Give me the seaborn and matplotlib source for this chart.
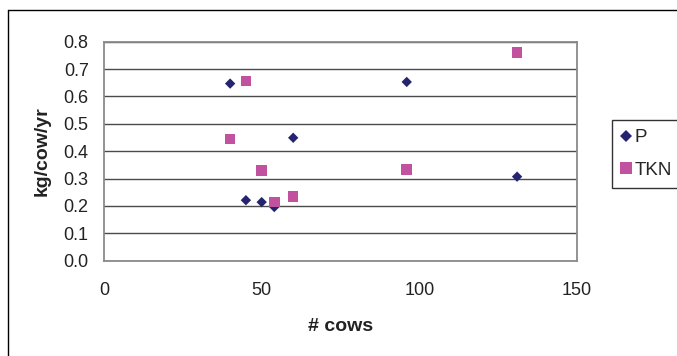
import matplotlib
matplotlib.use("Agg")
import matplotlib.pyplot as plt
from matplotlib.lines import Line2D
import seaborn as sns
import pandas as pd

# Herd size and annual loss per cow
cows = [40, 45, 50, 54, 60, 96, 131]
p_vals = [0.647, 0.221, 0.214, 0.196, 0.449, 0.653, 0.307]
tkn_vals = [0.445, 0.656, 0.329, 0.214, 0.235, 0.334, 0.761]
series_names = ["P", "TKN"]
x_ticks = [0, 50, 100, 150]
y_ticks = [0.0, 0.1, 0.2, 0.3, 0.4, 0.5, 0.6, 0.7, 0.8]

df = pd.concat([
    pd.DataFrame({"cows": cows, "value": p_vals, "series": series_names[0]}),
    pd.DataFrame({"cows": cows, "value": tkn_vals, "series": series_names[1]}),
], ignore_index=True)

sns.set_theme(style="white")
plt.rcParams["font.family"] = ["Liberation Sans", "DejaVu Sans"]

W, H = 677, 356
fig = plt.figure(figsize=(W / 100, H / 100), dpi=100)
ax = fig.add_axes([104 / W, 1 - 260.7 / H, (577 - 104) / W, (260.7 - 41.7) / H])

colors = {"P": "#25256f", "TKN": "#c0529f"}
markers = {"P": "D", "TKN": "s"}
for name in series_names:
    sub = df[df["series"] == name]
    sns.scatterplot(data=sub, x="cows", y="value", ax=ax, color=colors[name],
                    marker=markers[name], s=28 if name == "P" else 58,
                    edgecolor="none", linewidth=0, zorder=3, legend=False)

ax.set_xlim(0, 150)
ax.set_ylim(0, 0.8)
ax.set_xticks(x_ticks)
ax.set_xticklabels([str(v) for v in x_ticks])
ax.set_yticks(y_ticks)
ax.set_yticklabels([f"{v:.1f}" for v in y_ticks])
ax.yaxis.grid(True, color="#4a4a4a", linewidth=1.0)
ax.xaxis.grid(False)
ax.set_axisbelow(True)
for side in ["left", "right", "top", "bottom"]:
    ax.spines[side].set_visible(True)
    ax.spines[side].set_color("#8a8a8a")
    ax.spines[side].set_linewidth(1.3)
ax.tick_params(axis="both", which="major", direction="out", length=4.5, width=1,
               color="#8a8a8a", labelsize=13, labelcolor="#222222")
ax.tick_params(axis="y", pad=6.5)
ax.tick_params(axis="x", pad=10.5)
ax.set_xlabel("# cows", fontsize=14, fontweight="bold", labelpad=14, color="#222222")
ax.set_ylabel("kg/cow/yr", fontsize=14, fontweight="bold", labelpad=9.5, color="#222222")

handles = [Line2D([], [], linestyle="none", marker=markers[n], color=colors[n],
                  markersize=6.2 if n == "P" else 8, markeredgewidth=0)
           for n in series_names]
leg = fig.legend(handles, series_names, loc="upper left",
                 bbox_to_anchor=(612 / W, 1 - 120 / H), frameon=True, fancybox=False,
                 fontsize=13.5, handlelength=0.5, handletextpad=0.2,
                 borderpad=0.5, labelspacing=0.8, borderaxespad=0)
leg.get_frame().set_edgecolor("#000000")
leg.get_frame().set_linewidth(1.0)

# outer chart frame (top and left edges)
fig.add_artist(Line2D([8 / W, 1], [1 - 10 / H, 1 - 10 / H], transform=fig.transFigure,
                      color="#000000", linewidth=1.0))
fig.add_artist(Line2D([8 / W, 8 / W], [0, 1 - 10 / H], transform=fig.transFigure,
                      color="#000000", linewidth=1.0))

fig.savefig("out.png", dpi=100)
